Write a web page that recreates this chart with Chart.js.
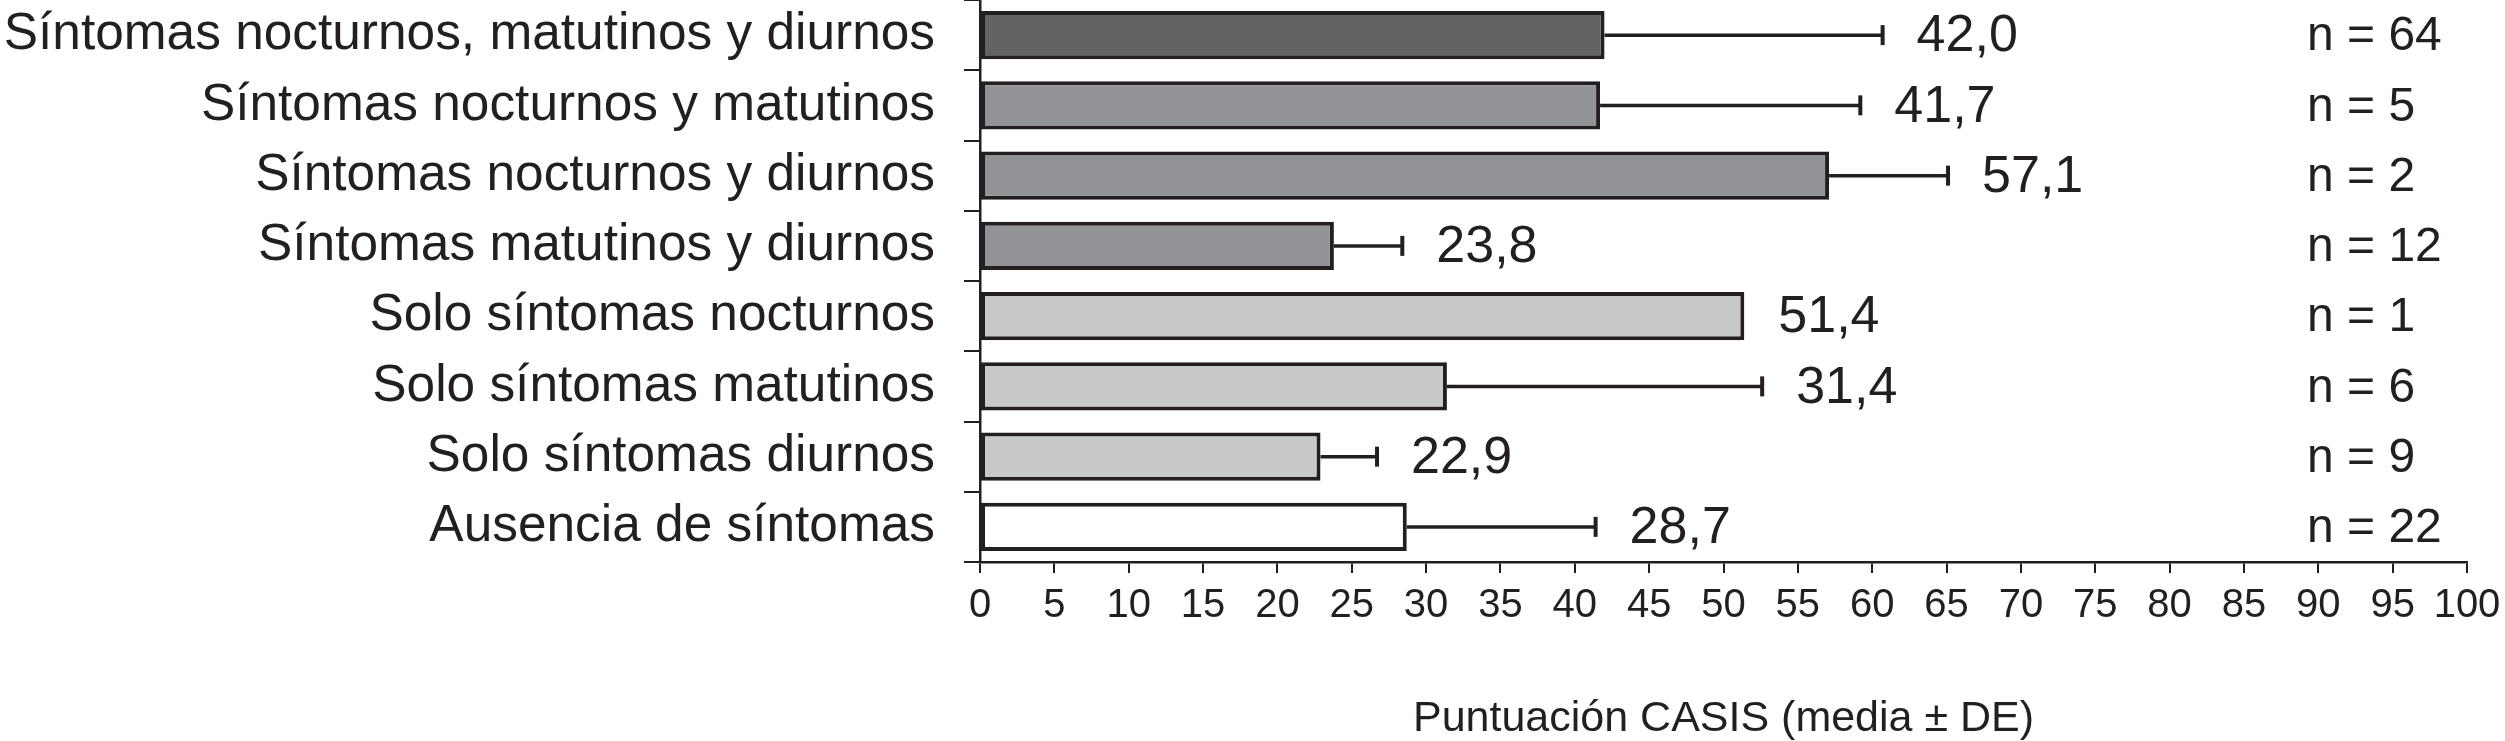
<!DOCTYPE html>
<html>
<head>
<meta charset="utf-8">
<script src="https://cdn.jsdelivr.net/npm/chart.js@4.4.1/dist/chart.umd.min.js"></script>
<style>
  html, body { margin: 0; padding: 0; background: #fff; }
  canvas { display: block; }
</style>
</head>
<body>
<canvas id="chart" width="2505" height="741"></canvas>
<script>
// categories (top to bottom)
const categories = [
  'Síntomas nocturnos, matutinos y diurnos',
  'Síntomas nocturnos y matutinos',
  'Síntomas nocturnos y diurnos',
  'Síntomas matutinos y diurnos',
  'Solo síntomas nocturnos',
  'Solo síntomas matutinos',
  'Solo síntomas diurnos',
  'Ausencia de síntomas'
];
// mean CASIS score
const means = [42.0, 41.7, 57.1, 23.8, 51.4, 31.4, 22.9, 28.7];
// standard deviation (null = no bar)
const sds = [18.7, 17.5, 8.0, 4.6, null, 21.2, 3.8, 12.7];
// group sizes
const counts = [64, 5, 2, 12, 1, 6, 9, 22];
const barColors = ['#636366', '#929397', '#929397', '#929397', '#c8c9cb', '#c8c9cb', '#c8c9cb', '#ffffff'];
const axisTitle = 'Puntuación CASIS (media ± DE)';

const ink = '#231f20';
const fontFamily = '"Liberation Sans", Arial, Helvetica, sans-serif';

// error bars, value labels and n labels
const extrasPlugin = {
  id: 'extras',
  afterDatasetsDraw(chart) {
    const ctx = chart.ctx;
    const x = chart.scales.x;
    const y = chart.scales.y;
    ctx.save();
    ctx.strokeStyle = ink;
    ctx.fillStyle = ink;
    ctx.textBaseline = 'middle';
    means.forEach((m, i) => {
      const yc = y.getPixelForValue(i);
      const x0 = x.getPixelForValue(m);
      let xEnd = x0;
      if (sds[i] != null) {
        const x1 = x.getPixelForValue(m + sds[i]);
        ctx.lineWidth = 3.5;
        ctx.beginPath();
        ctx.moveTo(x0, yc);
        ctx.lineTo(x1, yc);
        ctx.stroke();
        ctx.lineWidth = 4;
        ctx.beginPath();
        ctx.moveTo(x1, yc - 10);
        ctx.lineTo(x1, yc + 10);
        ctx.stroke();
        xEnd = x1;
      }
      ctx.font = '52px ' + fontFamily;
      ctx.textAlign = 'left';
      ctx.fillText(m.toFixed(1).replace('.', ','), xEnd + 34, yc + 2);

      ctx.font = '48px ' + fontFamily;
      ctx.fillText('n = ' + counts[i], chart.chartArea.right - 160, yc + 2);
    });
    ctx.restore();
  }
};

new Chart(document.getElementById('chart'), {
  type: 'bar',
  data: {
    labels: categories,
    datasets: [{
      data: means,
      backgroundColor: barColors,
      borderColor: ink,
      borderWidth: 4,
      borderSkipped: false,
      barPercentage: 0.69,
      categoryPercentage: 1
    }]
  },
  options: {
    indexAxis: 'y',
    responsive: false,
    animation: false,
    layout: { padding: { top: 0, right: 38, bottom: 0, left: 0 } },
    plugins: {
      legend: { display: false },
      tooltip: { enabled: false }
    },
    scales: {
      x: {
        min: 0,
        max: 100,
        ticks: {
          stepSize: 5,
          color: ink,
          padding: 9,
          maxRotation: 0,
          autoSkip: false,
          font: { family: fontFamily, size: 40 }
        },
        grid: { drawOnChartArea: false, tickLength: 11, color: ink, lineWidth: 2 },
        border: { color: ink, width: 2.5 },
        title: {
          display: true,
          text: axisTitle,
          color: ink,
          padding: { top: 0, bottom: 0 },
          font: { family: fontFamily, size: 43, lineHeight: 1 }
        },
        afterFit(scale) {
          scale.height = 179;
          scale.paddingLeft = 0;
          scale.paddingRight = 0;
        }
      },
      y: {
        ticks: {
          color: ink,
          padding: 29,
          autoSkip: false,
          font: { family: fontFamily, size: 51.4 }
        },
        grid: { drawOnChartArea: false, tickLength: 16, color: ink, lineWidth: 2, offset: true },
        border: { color: ink, width: 2.5 },
        afterFit(scale) {
          scale.width = 980;
          scale.paddingTop = 0;
          scale.paddingBottom = 0;
        }
      }
    }
  },
  plugins: [extrasPlugin]
});
</script>
</body>
</html>
